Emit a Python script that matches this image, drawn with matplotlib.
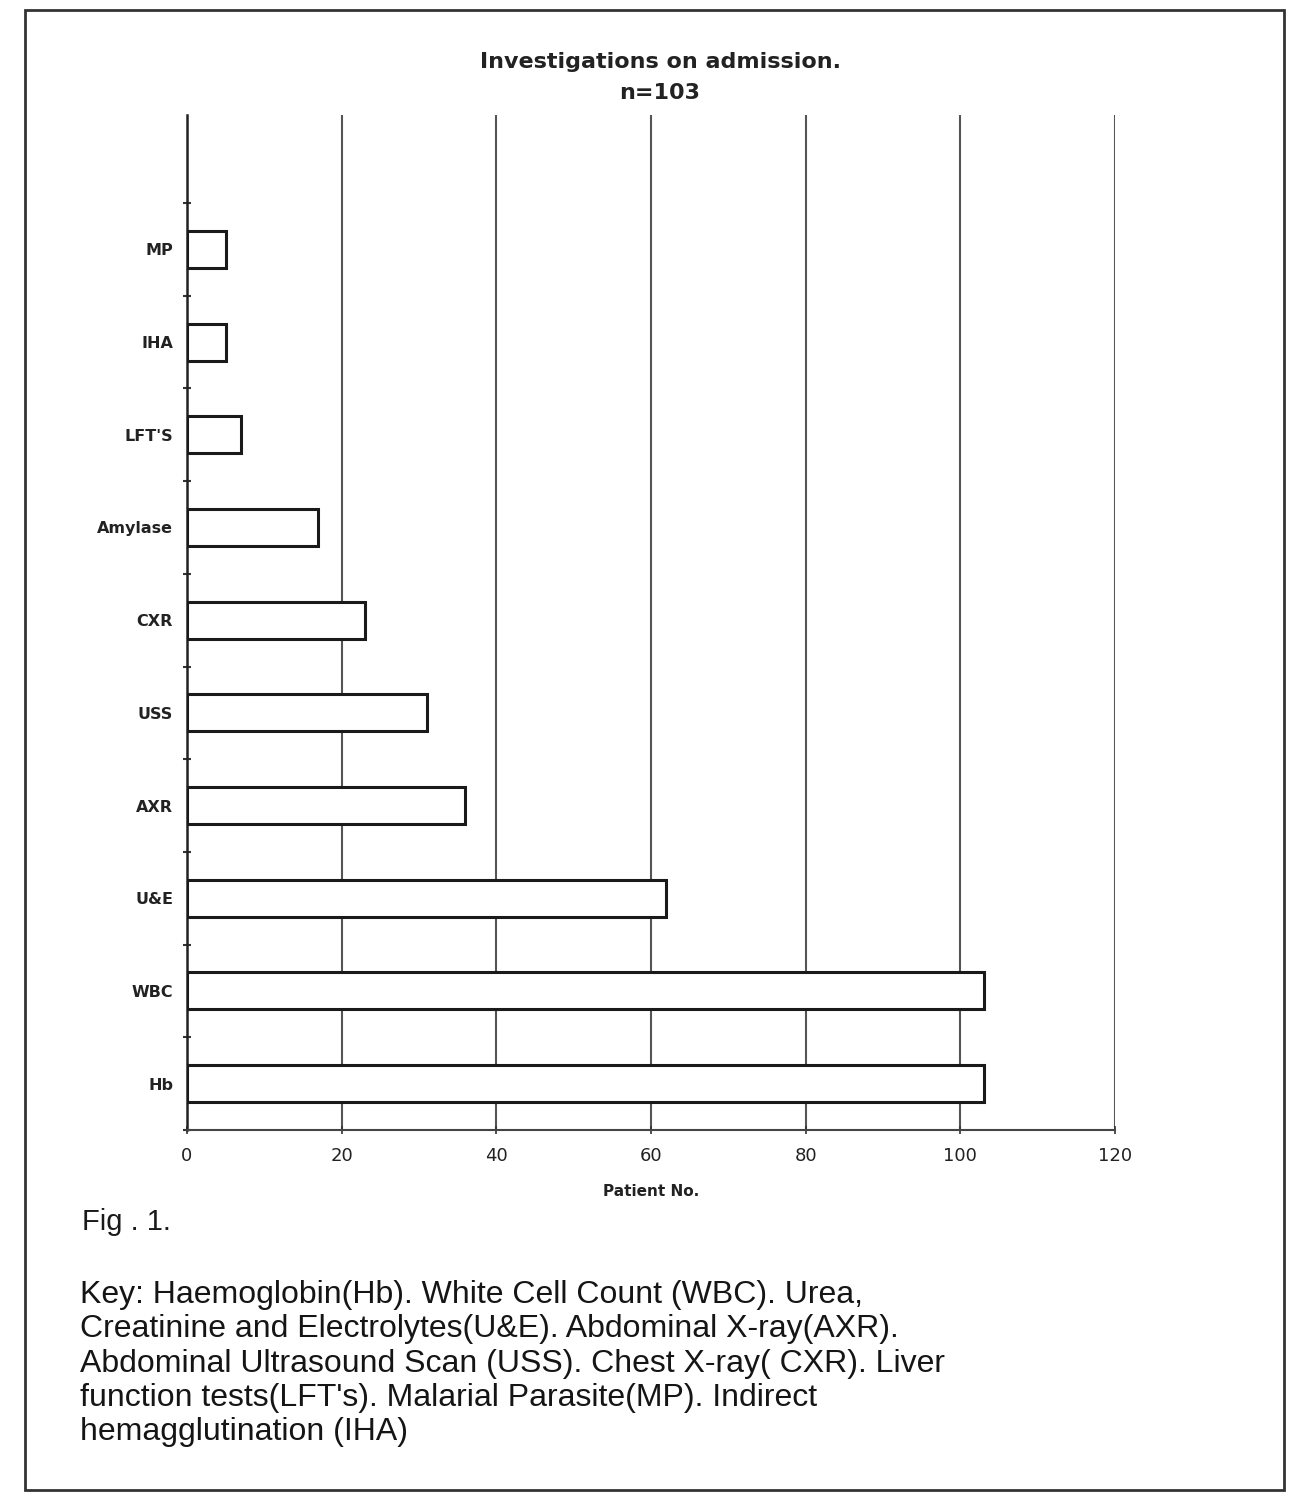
import matplotlib
matplotlib.use("Agg")
import matplotlib.pyplot as plt
from matplotlib.patches import Rectangle
import numpy as np

plt.rcParams['font.family'] = ['Liberation Sans', 'DejaVu Sans']

categories = ["Hb", "WBC", "U&E", "AXR", "USS", "CXR", "Amylase", "LFT'S", "IHA", "MP"]
values = [103, 103, 62, 36, 31, 23, 17, 7, 5, 5]
xticks = [0, 20, 40, 60, 80, 100, 120]
xticklabels = ["0", "20", "40", "60", "80", "100", "120"]

W, H = 1299, 1501
fig = plt.figure(figsize=(W / 100, H / 100), dpi=100)

left, right, top, bottom = 187, 1115, 115, 1130
ax = fig.add_axes([left / W, 1 - bottom / H, (right - left) / W, (bottom - top) / H])

y = np.arange(len(categories))
ax.barh(y, values, height=0.4, color="white", edgecolor="#1a1a1a", linewidth=2.2, zorder=3)

ax.set_xlim(0, 120)
ax.set_ylim(-0.5, 10.45)
ax.set_xticks(xticks)
ax.set_xticklabels(xticklabels, fontsize=13, family=["DejaVu Sans"], color="#222222")
ax.set_yticks(y)
ax.set_yticklabels(categories, fontsize=11.5, fontweight="bold", family=["DejaVu Sans"], color="#222222")
ax.set_yticks(np.arange(-0.5, 10.0, 1.0), minor=True)
ax.tick_params(axis="y", which="major", length=0, pad=10)
ax.tick_params(axis="y", which="minor", length=6, direction="inout", width=1.5, color="#333333")
ax.tick_params(axis="x", which="major", length=6, direction="inout", width=1.2, pad=9, color="#333333")

ax.grid(axis="x", color="#555555", linewidth=1.5, zorder=0)
for s in ["top", "right"]:
    ax.spines[s].set_visible(False)
ax.spines["left"].set_linewidth(1.8)
ax.spines["left"].set_color("#222222")
ax.spines["bottom"].set_linewidth(1.5)
ax.spines["bottom"].set_color("#444444")

ax.set_xlabel("Patient No.", fontsize=11, fontweight="bold", family=["DejaVu Sans"],
              labelpad=14, color="#222222")

fig.text(660 / W, 1 - 62 / H, "Investigations on admission.", ha="center", va="center",
         fontsize=16, fontweight="bold", family=["DejaVu Sans"], color="#222222")
fig.text(660 / W, 1 - 93 / H, "n=103", ha="center", va="center",
         fontsize=16, fontweight="bold", family=["DejaVu Sans"], color="#222222")

fig.text(82 / W, 1 - 1222 / H, "Fig . 1.", ha="left", va="center", fontsize=21, color="#1a1a1a")

key = ("Key: Haemoglobin(Hb). White Cell Count (WBC). Urea,\n"
       "Creatinine and Electrolytes(U&E). Abdominal X-ray(AXR).\n"
       "Abdominal Ultrasound Scan (USS). Chest X-ray( CXR). Liver\n"
       "function tests(LFT's). Malarial Parasite(MP). Indirect\n"
       "hemagglutination (IHA)")
fig.text(80 / W, 1 - 1280 / H, key, ha="left", va="top", fontsize=23,
         color="#151515", linespacing=1.19)

# page frame of the scanned figure
fig.add_artist(Rectangle((25 / W, 1 - 1490 / H), (1284 - 25) / W, (1490 - 10) / H,
                         transform=fig.transFigure, fill=False, edgecolor="#333333", linewidth=2))

fig.savefig("out.png", dpi=100, facecolor="white")
